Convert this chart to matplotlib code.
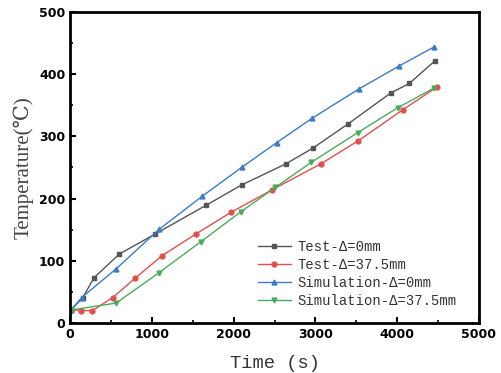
import matplotlib
matplotlib.use("Agg")
import matplotlib.pyplot as plt
from matplotlib.ticker import MultipleLocator

# Data
test0_x = [10, 155, 293, 603, 1039, 1659, 2099, 2641, 2967, 3399, 3924, 4148, 4458]
test0_y = [21, 41, 73, 111, 143, 189, 222, 256, 281, 320, 370, 385, 421]

test375_x = [10, 131, 273, 522, 795, 1121, 1537, 1968, 2469, 3068, 3525, 4071, 4483]
test375_y = [21, 20, 20, 41, 72, 108, 143, 178, 214, 256, 293, 343, 379]

sim0_x = [10, 143, 562, 1092, 1618, 2107, 2527, 2958, 3529, 4022, 4454]
sim0_y = [21, 41, 87, 151, 204, 251, 290, 329, 376, 413, 444]

sim375_x = [10, 562, 1088, 1601, 2090, 2510, 2946, 3517, 4006, 4454]
sim375_y = [21, 32, 81, 131, 179, 218, 258, 306, 346, 378]

labels = ["Test-Δ=0mm", "Test-Δ=37.5mm", "Simulation-Δ=0mm", "Simulation-Δ=37.5mm"]
colors = ["#555555", "#e0504c", "#3b7cc4", "#4caa5c"]
markers = ["s", "o", "^", "v"]

fig = plt.figure(figsize=(5.01, 3.73), dpi=100)
ax = fig.add_axes([0.14, 0.134, 0.816, 0.834])

series = [(test0_x, test0_y), (test375_x, test375_y), (sim0_x, sim0_y), (sim375_x, sim375_y)]
for (x, y), lab, c, m in zip(series, labels, colors, markers):
    ax.plot(x, y, color=c, marker=m, markersize=3.5, linewidth=1.0, label=lab)

ax.set_xlim(0, 5000)
ax.set_ylim(0, 500)
ax.xaxis.set_major_locator(MultipleLocator(1000))
ax.xaxis.set_minor_locator(MultipleLocator(500))
ax.yaxis.set_major_locator(MultipleLocator(100))
ax.yaxis.set_minor_locator(MultipleLocator(50))
ax.tick_params(which="major", direction="in", length=4, width=1.5, labelsize=9)
ax.tick_params(which="minor", direction="in", length=2.5, width=1.2)
for lbl in ax.get_xticklabels() + ax.get_yticklabels():
    lbl.set_fontweight("bold")
    lbl.set_family("DejaVu Sans")
for sp in ax.spines.values():
    sp.set_linewidth(2)

ax.set_xlabel("Time (s)", family=["Liberation Mono", "DejaVu Sans Mono"], fontsize=13.5,
              color="#333333", labelpad=10)
ax.set_ylabel("Temperature(℃)", family=["Liberation Serif", "DejaVu Serif"], fontsize=15,
              color="#444444", labelpad=4)

leg = ax.legend(loc="lower right", bbox_to_anchor=(0.96, 0.03), frameon=False,
                prop={"family": ["Liberation Mono", "DejaVu Sans Mono"], "size": 10},
                handlelength=2.4, labelspacing=0.3, borderaxespad=0.0, handletextpad=0.5)
for t in leg.get_texts():
    t.set_color("#333333")

fig.savefig("out.png", dpi=100)
